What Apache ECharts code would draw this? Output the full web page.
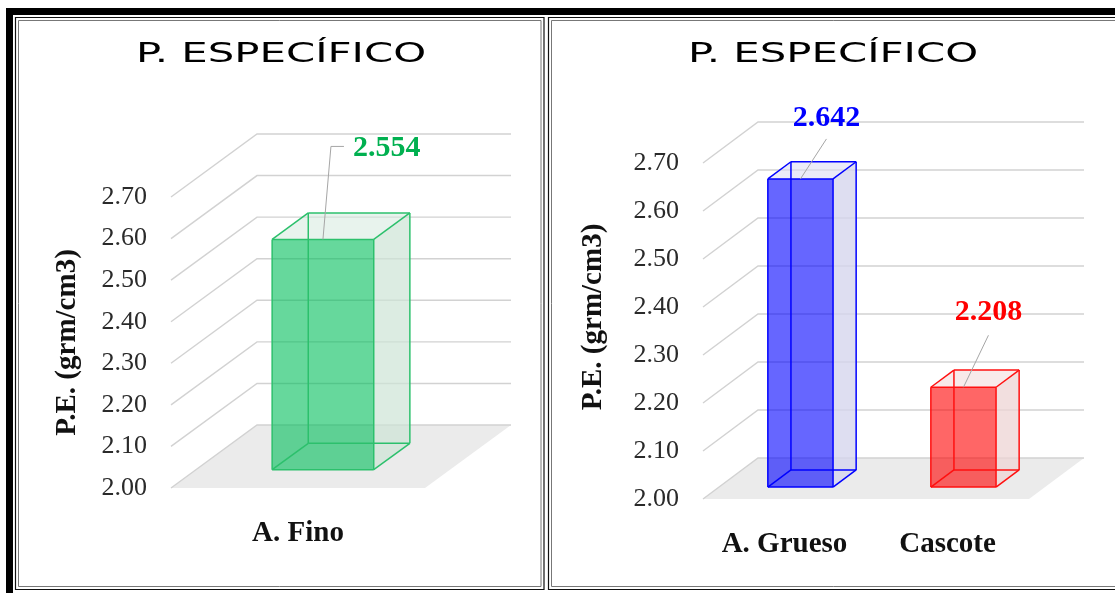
<!DOCTYPE html>
<html>
<head>
<meta charset="utf-8">
<script src="https://cdn.jsdelivr.net/npm/echarts@6/dist/echarts.min.js"></script>
<style>
  html, body { margin: 0; padding: 0; background: #fff; }
  #chart { width: 1115px; height: 593px; }
</style>
</head>
<body>
<div id="chart"></div>
<script>
// Specific gravity of the aggregates (g/cm3)
const yTicks = [2.00, 2.10, 2.20, 2.30, 2.40, 2.50, 2.60, 2.70];
const fineCategories = ['A. Fino'];
const fineValues = [2.554];
const coarseCategories = ['A. Grueso', 'Cascote'];
const coarseValues = [2.642, 2.208];
const chartTitle = 'P. ESPECÍFICO';
const axisTitle = 'P.E. (grm/cm3)';

// Box look: width share of the category band, front/back depth fractions
const BAR_WIDTH = 0.4;
const DEPTH_FRONT = 0.29;
const DEPTH_BACK = 0.71;

const GREEN = { front: 'rgba(0,190,90,0.6)', top: 'rgba(214,234,222,0.55)', side: 'rgba(205,228,214,0.7)', edge: '#2cc06c', label: '#00b050' };
const BLUE  = { front: 'rgba(0,0,255,0.6)', top: 'rgba(222,222,244,0.6)', side: 'rgba(214,214,238,0.8)', edge: '#0000ff', label: '#0000ff' };
const RED   = { front: 'rgba(255,0,0,0.6)', top: 'rgba(244,220,220,0.6)', side: 'rgba(238,212,212,0.75)', edge: '#ff1010', label: '#ff0000' };

const panels = [
  {
    grid: { left: 171, top: 197, width: 254, height: 291 },
    depth: [86, -63],
    categories: fineCategories,
    values: fineValues,
    styles: [GREEN],
    labels: [{ line: [[8, -93], [21, -93]], text: [30, -91], align: 'left' }],
    titleX: 281,
    nameGap: 89,
    namePad: [0, 0, 0, 0]
  },
  {
    grid: { left: 703, top: 163, width: 326, height: 336 },
    depth: [55, -41],
    categories: coarseCategories,
    values: coarseValues,
    styles: [BLUE, RED],
    labels: [
      { line: [[26, -40]], text: [26, -61], align: 'center' },
      { line: [[25, -52]], text: [25, -75], align: 'center' }
    ],
    titleX: 833,
    nameGap: 95,
    namePad: [0, 0, 0, 28]
  }
];

function floorRenderer(panel) {
  return function (params, api) {
    const cs = params.coordSys;
    const y = api.coord([0, api.value(1)])[1];
    const [dx, dy] = panel.depth;
    return {
      type: 'polygon',
      shape: { points: [[cs.x, y], [cs.x + cs.width, y], [cs.x + cs.width + dx, y + dy], [cs.x + dx, y + dy]] },
      style: { fill: '#ebebeb' }
    };
  };
}

function wallRenderer(panel) {
  return function (params, api) {
    const cs = params.coordSys;
    const y = api.coord([0, api.value(1)])[1];
    const [dx, dy] = panel.depth;
    return {
      type: 'polyline',
      shape: { points: [[cs.x, y], [cs.x + dx, y + dy], [cs.x + cs.width + dx, y + dy]] },
      style: { stroke: '#d2d2d2', lineWidth: 1.4, fill: 'none' }
    };
  };
}

function boxRenderer(panel) {
  return function (params, api) {
    const i = api.value(0);
    const v = api.value(1);
    const top = api.coord([i, v]);
    const base = api.coord([i, yTicks[0]]);
    const half = api.size([1, 0])[0] * BAR_WIDTH / 2;
    const [dx, dy] = panel.depth;
    const p = (x, y, d) => [x + d * dx, y + d * dy];
    const xl = top[0] - half, xr = top[0] + half;
    const F = DEPTH_FRONT, B = DEPTH_BACK;
    const flt = p(xl, top[1], F), frt = p(xr, top[1], F);
    const flb = p(xl, base[1], F), frb = p(xr, base[1], F);
    const blt = p(xl, top[1], B), brt = p(xr, top[1], B);
    const blb = p(xl, base[1], B), brb = p(xr, base[1], B);
    const st = panel.styles[params.dataIndex];

    const children = [
      { type: 'polygon', shape: { points: [frt, brt, brb, frb] }, style: { fill: st.side } },
      { type: 'polygon', shape: { points: [flt, blt, brt, frt] }, style: { fill: st.top } },
      { type: 'polygon', shape: { points: [flt, frt, frb, flb] }, style: { fill: st.front } }
    ];
    const edges = [
      [blt, blb], [blb, brb], [flb, blb], [blt, brt], [brt, brb], [flt, blt], [frt, brt], [frb, brb],
      [flt, frt], [frt, frb], [frb, flb], [flb, flt]
    ];
    edges.forEach(function (e) {
      children.push({
        type: 'line',
        shape: { x1: e[0][0], y1: e[0][1], x2: e[1][0], y2: e[1][1] },
        style: { stroke: st.edge, lineWidth: 1.5 }
      });
    });

    // data label with its leader line
    const anchor = [(flt[0] + frt[0]) / 2, flt[1]];
    const lab = panel.labels[params.dataIndex];
    const pts = [anchor].concat(lab.line.map(o => [anchor[0] + o[0], anchor[1] + o[1]]));
    children.push({ type: 'polyline', shape: { points: pts }, style: { stroke: '#a6a6a6', lineWidth: 1, fill: 'none' } });
    children.push({
      type: 'text',
      x: anchor[0] + lab.text[0],
      y: anchor[1] + lab.text[1],
      style: {
        text: v.toFixed(3),
        fill: st.label,
        font: 'bold 30px "Liberation Serif"',
        align: lab.align,
        verticalAlign: 'middle'
      }
    });
    return { type: 'group', children: children };
  };
}

const grids = [], xAxes = [], yAxes = [], series = [];
panels.forEach(function (panel, k) {
  grids.push(Object.assign({ containLabel: false }, panel.grid));
  xAxes.push({
    type: 'category',
    gridIndex: k,
    data: panel.categories,
    axisLine: { show: false },
    axisTick: { show: false },
    splitLine: { show: false },
    axisLabel: {
      interval: 0,
      hideOverlap: false,
      margin: 31,
      color: '#111',
      fontFamily: 'Liberation Serif',
      fontWeight: 'bold',
      fontSize: 29
    }
  });
  yAxes.push({
    type: 'value',
    gridIndex: k,
    min: yTicks[0],
    max: yTicks[yTicks.length - 1],
    interval: 0.1,
    axisLine: { show: false },
    axisTick: { show: false },
    splitLine: { show: false },
    axisLabel: {
      margin: 24,
      color: '#2a2a2a',
      fontFamily: 'Liberation Serif',
      fontSize: 26,
      formatter: v => v.toFixed(2)
    },
    name: axisTitle,
    nameLocation: 'middle',
    nameGap: panel.nameGap,
    nameTextStyle: {
      color: '#111',
      fontFamily: 'Liberation Serif',
      fontWeight: 'bold',
      fontSize: 29,
      padding: panel.namePad
    }
  });
  series.push({
    type: 'custom',
    xAxisIndex: k,
    yAxisIndex: k,
    z: 1,
    silent: true,
    renderItem: floorRenderer(panel),
    data: [[0, yTicks[0]]]
  });
  series.push({
    type: 'custom',
    xAxisIndex: k,
    yAxisIndex: k,
    z: 2,
    silent: true,
    renderItem: wallRenderer(panel),
    data: yTicks.map(v => [0, v])
  });
  series.push({
    type: 'custom',
    xAxisIndex: k,
    yAxisIndex: k,
    z: 3,
    renderItem: boxRenderer(panel),
    data: panel.values.map((v, i) => [i, v])
  });
});

// panel frames and titles
const graphic = [
  { type: 'rect', shape: { x: 6, y: 8, width: 1109, height: 7 }, style: { fill: '#000' } },
  { type: 'rect', shape: { x: 6, y: 8, width: 7, height: 585 }, style: { fill: '#000' } },
  { type: 'rect', shape: { x: 15.5, y: 17.5, width: 528.5, height: 572 }, style: { fill: 'none', stroke: '#111', lineWidth: 1.2 } },
  { type: 'rect', shape: { x: 18.5, y: 20.5, width: 522.5, height: 566 }, style: { fill: 'none', stroke: '#777', lineWidth: 1 } },
  { type: 'rect', shape: { x: 548.5, y: 17.5, width: 600, height: 572 }, style: { fill: 'none', stroke: '#111', lineWidth: 1.2 } },
  { type: 'rect', shape: { x: 551.5, y: 20.5, width: 600, height: 566 }, style: { fill: 'none', stroke: '#777', lineWidth: 1 } }
];
panels.forEach(function (panel) {
  graphic.push({
    type: 'text',
    x: panel.titleX,
    y: 55,
    scaleX: 1.55,
    style: {
      text: chartTitle,
      fill: '#000',
      font: '27px "DejaVu Sans"',
      align: 'center',
      verticalAlign: 'middle'
    }
  });
});

const chart = echarts.init(document.getElementById('chart'), null, { renderer: 'canvas' });
chart.setOption({
  animation: false,
  backgroundColor: '#fff',
  grid: grids,
  xAxis: xAxes,
  yAxis: yAxes,
  series: series,
  graphic: graphic
});
</script>
</body>
</html>
